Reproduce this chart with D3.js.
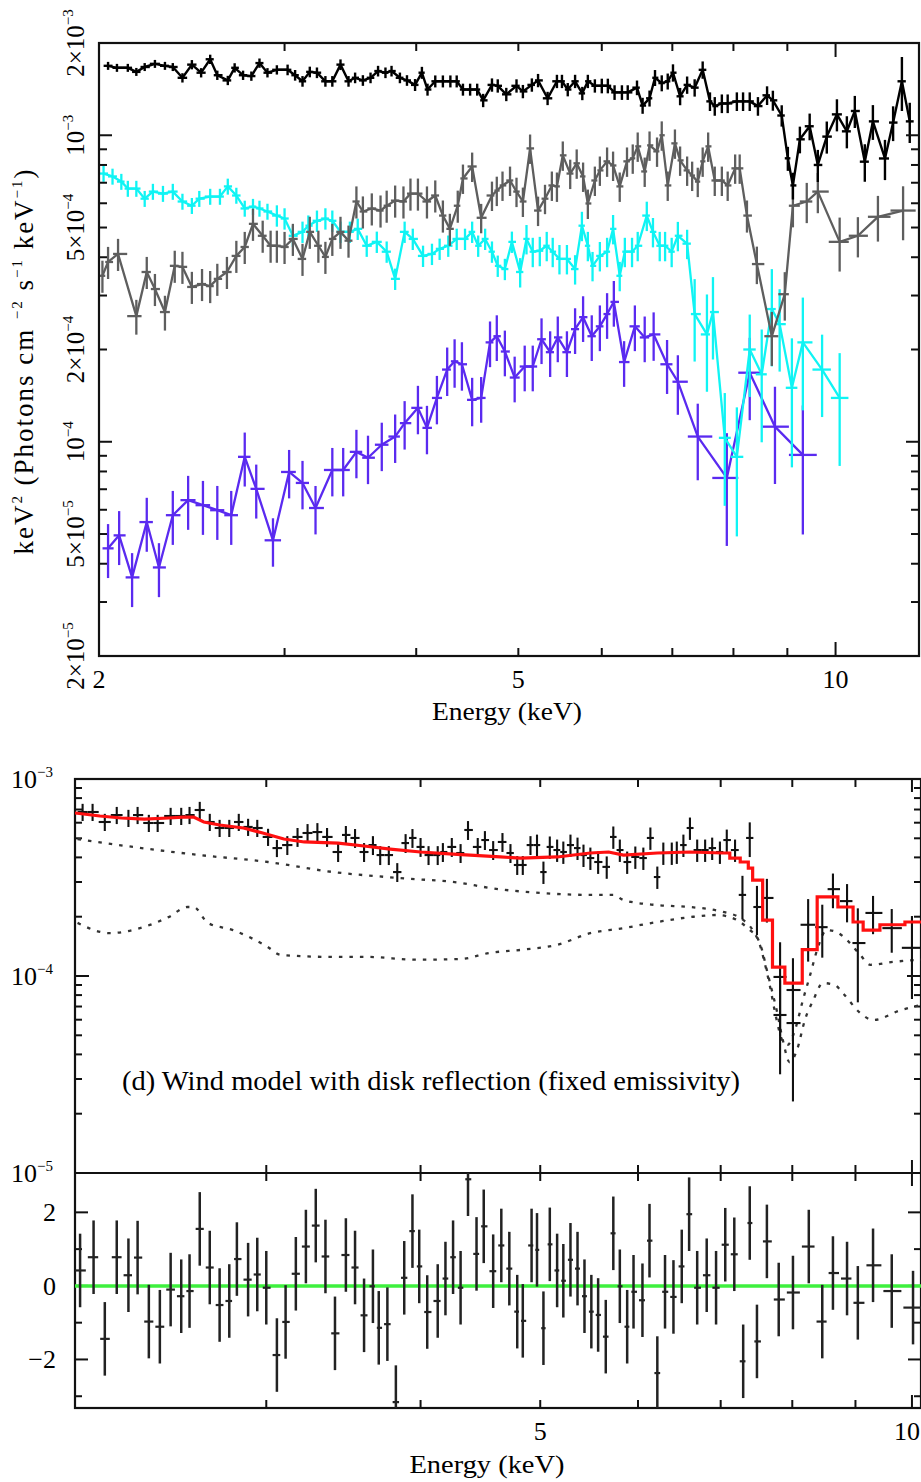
<!DOCTYPE html>
<html><head><meta charset="utf-8">
<script src="https://cdn.jsdelivr.net/npm/d3@7"></script>
<style>
body{margin:0;background:#fff}
svg{display:block}
text{font-family:"Liberation Serif","Times New Roman",serif;fill:#000}
</style>
</head><body>
<svg id="c" width="921" height="1482"></svg>
<script>
// ---------------- DATA (upper figure: four spectra, keV^2 flux) ----------------
const blackE = [2.04,2.08,2.13,2.17,2.21,2.26,2.31,2.35,2.40,2.45,2.50,2.55,2.59,2.65,2.69,2.74,2.79,2.84,2.89,2.95,
3.02,3.07,3.12,3.17,3.22,3.28,3.33,3.39,3.45,3.50,3.56,3.62,3.68,3.74,3.79,3.86,3.92,
3.99,4.05,4.10,4.17,4.24,4.31,4.37,4.43,4.50,4.57,4.63,4.72,4.78,4.87,
4.98,5.05,5.15,5.22,5.33,5.44,5.50,5.57,5.66,5.75,5.82,5.91,
6.00,6.08,6.17,6.27,6.35,6.48,6.56,6.66,6.74,6.84,6.93,
7.01,7.12,7.23,7.35,7.48,7.60,7.68,7.80,7.90,
8.06,8.17,8.29,8.44,8.61,8.72,8.89,
9.01,9.11,9.25,9.45,9.62,9.81,
10.03,10.25,10.43,10.66,10.85,11.14,11.34,11.56,11.76];
const blackV = [1.685e-3,1.66e-3,1.66e-3,1.61e-3,1.67e-3,1.71e-3,1.685e-3,1.67e-3,1.54e-3,1.70e-3,1.60e-3,1.77e-3,1.57e-3,1.51e-3,1.66e-3,1.57e-3,1.56e-3,1.72e-3,1.60e-3,1.635e-3,
1.635e-3,1.57e-3,1.50e-3,1.61e-3,1.60e-3,1.50e-3,1.50e-3,1.70e-3,1.50e-3,1.54e-3,1.51e-3,1.54e-3,1.62e-3,1.60e-3,1.62e-3,1.54e-3,1.51e-3,
1.46e-3,1.60e-3,1.41e-3,1.50e-3,1.50e-3,1.50e-3,1.50e-3,1.41e-3,1.41e-3,1.41e-3,1.30e-3,1.46e-3,1.45e-3,1.36e-3,
1.45e-3,1.39e-3,1.46e-3,1.51e-3,1.32e-3,1.50e-3,1.50e-3,1.41e-3,1.50e-3,1.37e-3,1.50e-3,1.45e-3,
1.45e-3,1.45e-3,1.38e-3,1.38e-3,1.38e-3,1.43e-3,1.25e-3,1.32e-3,1.54e-3,1.48e-3,1.50e-3,
1.60e-3,1.34e-3,1.46e-3,1.43e-3,1.635e-3,1.29e-3,1.245e-3,1.27e-3,1.27e-3,
1.29e-3,1.29e-3,1.29e-3,1.245e-3,1.35e-3,1.30e-3,1.16e-3,
8.41e-4,6.86e-4,9.7e-4,1.07e-3,8.0e-4,9.9e-4,
1.17e-3,1.03e-3,1.20e-3,8.2e-4,1.11e-3,8.4e-4,1.10e-3,1.50e-3,1.11e-3];
const blackErr = [.03,.03,.03,.03,.03,.03,.03,.03,.035,.035,.035,.035,.035,.035,.035,.035,.035,.035,.035,.035,
.04,.04,.04,.04,.04,.04,.04,.04,.04,.04,.04,.04,.04,.04,.04,.04,.04,
.045,.045,.045,.045,.045,.045,.045,.045,.045,.045,.05,.05,.05,.05,
.05,.05,.05,.05,.05,.05,.05,.05,.05,.05,.05,.05,
.055,.055,.055,.055,.055,.055,.06,.06,.06,.06,.06,
.065,.065,.065,.065,.065,.07,.07,.07,.07,
.07,.07,.07,.07,.07,.075,.08,
.09,.1,.1,.1,.12,.12,
.12,.12,.12,.14,.13,.15,.13,.2,.15];

const grayE = [2.015,2.04,2.085,2.17,2.22,2.26,2.31,2.36,2.40,2.45,2.505,2.55,2.59,2.645,2.70,2.75,2.80,2.86,2.91,2.95,
3.00,3.055,3.12,3.17,3.23,3.28,3.33,3.39,3.45,3.51,3.56,3.63,3.70,3.75,3.82,3.89,3.95,4.015,4.095,4.17,
4.24,4.305,4.38,4.43,4.52,4.61,4.72,4.77,4.83,4.91,4.98,5.05,5.13,5.22,5.30,5.38,5.44,5.51,5.60,5.68,
5.76,5.82,5.91,5.975,6.07,6.15,6.24,6.34,6.42,6.49,6.59,6.66,6.77,6.84,6.93,7.04,7.12,7.23,7.31,7.40,
7.48,7.57,7.68,7.80,7.90,8.03,8.11,8.24,8.42,8.70,8.95,9.11,9.39,9.62,10.09,10.50,10.97,11.59];
const grayV = [3.48e-4,3.86e-4,4.10e-4,2.57e-4,3.58e-4,3.15e-4,2.65e-4,3.75e-4,3.72e-4,3.20e-4,
3.27e-4,3.22e-4,3.40e-4,3.58e-4,4.04e-4,4.32e-4,5.14e-4,4.70e-4,4.36e-4,4.36e-4,
4.32e-4,4.59e-4,3.95e-4,4.84e-4,4.36e-4,4.01e-4,4.59e-4,4.84e-4,4.53e-4,6.08e-4,
5.64e-4,5.77e-4,5.68e-4,5.89e-4,6.12e-4,6.08e-4,6.45e-4,6.45e-4,6.08e-4,6.36e-4,
5.47e-4,4.95e-4,5.89e-4,7.23e-4,7.91e-4,5.38e-4,6.36e-4,6.60e-4,6.86e-4,7.12e-4,
6.55e-4,6.08e-4,9.06e-4,5.68e-4,6.21e-4,6.86e-4,6.81e-4,8.60e-4,7.50e-4,8.10e-4,
7.34e-4,5.99e-4,7.12e-4,7.68e-4,8.22e-4,7.97e-4,6.81e-4,8.22e-4,8.41e-4,9.20e-4,
7.62e-4,9.27e-4,8.86e-4,1.0e-3,6.86e-4,9.41e-4,8.28e-4,7.68e-4,7.39e-4,7.06e-4,
8.22e-4,9.20e-4,7.12e-4,7.12e-4,6.86e-4,7.80e-4,7.80e-4,5.47e-4,3.80e-4,2.21e-4,
3.03e-4,5.89e-4,6.08e-4,6.55e-4,4.49e-4,4.70e-4,5.42e-4,5.68e-4];
const grayErr = [.12,.12,.12,.13,.12,.12,.13,.12,.12,.12,.12,.12,.12,.12,.12,.12,.12,.12,.12,.12,
.12,.12,.12,.12,.12,.12,.12,.12,.12,.12,.12,.12,.12,.12,.12,.12,.12,.12,.12,.12,
.12,.12,.12,.11,.11,.11,.11,.11,.11,.11,.11,.11,.11,.11,.11,.11,.11,.11,.11,.11,
.11,.11,.11,.11,.11,.11,.11,.11,.11,.11,.11,.11,.11,.11,.11,.11,.11,.11,.11,.11,
.11,.11,.11,.11,.11,.11,.11,.12,.14,.2,.18,.15,.15,.15,.2,.15,.17,.2];

const cyanE = [2.02,2.06,2.10,2.13,2.17,2.21,2.25,2.30,2.35,2.40,2.45,2.49,2.55,2.605,2.65,2.70,2.75,2.80,2.84,2.89,
2.95,3.00,3.055,3.12,3.16,3.22,3.28,3.33,3.39,3.46,3.52,3.59,3.67,3.75,3.82,3.90,3.97,4.06,4.14,4.21,
4.29,4.37,4.45,4.52,4.58,4.65,4.72,4.78,4.855,4.93,5.02,5.09,5.16,5.24,5.32,5.39,5.47,5.56,5.66,5.745,
5.82,5.88,5.975,6.07,6.15,6.24,6.31,6.41,6.49,6.62,6.71,6.81,6.89,6.99,7.085,7.23,7.35,7.55,7.65,7.85,
8.06,8.29,8.51,8.70,8.85,9.09,9.31,9.71,10.09];
const cyanV = [7.50e-4,7.34e-4,7.06e-4,6.70e-4,6.70e-4,6.21e-4,6.55e-4,6.45e-4,6.55e-4,6.08e-4,
5.89e-4,6.21e-4,6.31e-4,6.31e-4,6.81e-4,6.36e-4,5.77e-4,5.85e-4,5.77e-4,5.64e-4,
5.47e-4,5.35e-4,4.70e-4,4.84e-4,5.07e-4,5.26e-4,5.35e-4,5.26e-4,4.84e-4,4.84e-4,
4.95e-4,4.36e-4,4.49e-4,4.17e-4,3.40e-4,4.84e-4,4.59e-4,4.04e-4,4.10e-4,4.26e-4,
4.36e-4,4.59e-4,4.59e-4,4.84e-4,4.36e-4,4.59e-4,4.17e-4,3.75e-4,3.66e-4,4.49e-4,
3.58e-4,4.59e-4,4.17e-4,4.20e-4,4.36e-4,4.17e-4,3.95e-4,3.95e-4,3.66e-4,5.07e-4,
4.36e-4,3.75e-4,4.04e-4,4.17e-4,4.95e-4,3.48e-4,4.17e-4,4.17e-4,4.36e-4,5.47e-4,
4.84e-4,4.36e-4,4.36e-4,4.17e-4,4.70e-4,4.43e-4,2.61e-4,2.24e-4,2.65e-4,1.03e-4,
8.93e-5,2.0e-4,1.66e-4,2.71e-4,2.42e-4,1.50e-4,2.11e-4,1.72e-4,1.39e-4];
const cyanErr = [.06,.06,.06,.06,.06,.06,.06,.06,.06,.06,.06,.06,.06,.06,.06,.06,.06,.06,.06,.06,
.08,.08,.08,.08,.08,.08,.08,.08,.08,.08,.08,.08,.08,.08,.08,.08,.08,.08,.08,.08,
.08,.08,.08,.08,.08,.08,.08,.08,.08,.08,.11,.11,.11,.11,.11,.11,.11,.11,.11,.11,
.11,.11,.11,.11,.11,.11,.11,.11,.11,.11,.11,.11,.11,.11,.11,.11,.3,.35,.3,.4,
.45,.3,.4,.35,.3,.45,.4,.3,.4];

const violetE = [2.04,2.09,2.15,2.22,2.28,2.35,2.43,2.51,2.59,2.67,2.75,2.82,2.925,3.03,3.12,3.21,3.33,3.41,3.51,3.60,
3.71,3.82,3.90,4.015,4.095,4.185,4.28,4.35,4.42,4.52,4.61,4.70,4.77,4.855,4.96,5.07,5.16,5.26,5.36,5.45,
5.56,5.66,5.76,5.87,5.975,6.07,6.16,6.30,6.45,6.59,6.72,6.92,7.085,7.40,7.885,8.29,8.76,9.31];
const violetV = [4.49e-5,4.95e-5,3.61e-5,5.47e-5,3.89e-5,5.76e-5,6.45e-5,6.21e-5,5.98e-5,5.76e-5,
8.93e-5,7.02e-5,4.77e-5,7.97e-5,7.34e-5,6.08e-5,8.09e-5,8.09e-5,9.27e-5,8.87e-5,
9.78e-5,1.04e-4,1.15e-4,1.29e-4,1.11e-4,1.39e-4,1.72e-4,1.83e-4,1.79e-4,1.37e-4,
1.39e-4,2.11e-4,2.21e-4,1.97e-4,1.62e-4,1.76e-4,1.76e-4,2.16e-4,1.96e-4,2.19e-4,
1.96e-4,2.33e-4,2.55e-4,2.21e-4,2.38e-4,2.61e-4,2.86e-4,1.82e-4,2.38e-4,2.19e-4,
2.24e-4,1.79e-4,1.57e-4,1.04e-4,7.62e-5,1.68e-4,1.12e-4,9.06e-5];
const violetErr = [.2,.2,.2,.2,.2,.2,.2,.2,.2,.2,.2,.2,.18,.18,.18,.18,.18,.18,.18,.18,
.18,.18,.18,.18,.18,.18,.18,.18,.18,.18,.17,.17,.17,.17,.17,.17,.17,.17,.17,.17,
.17,.17,.17,.17,.17,.17,.17,.17,.17,.17,.18,.2,.22,.28,.4,.3,.35,.45];

// ---------------- DATA (lower figure: panel d) ----------------
const dataE = [2.13,2.17,2.22,2.27,2.32,2.36,2.41,2.45,2.51,2.56,2.60,2.65,2.70,2.75,2.80,2.85,2.90,2.95,3.01,3.06,
3.12,3.18,3.24,3.30,3.36,3.43,3.48,3.54,3.60,3.66,3.71,3.77,3.83,3.89,3.94,4.00,4.06,4.13,4.17,4.24,
4.31,4.37,4.45,4.51,4.58,4.66,4.73,4.79,4.84,4.91,4.97,5.03,5.09,5.16,5.22,5.29,5.36,5.42,5.49,5.57,
5.66,5.73,5.80,5.88,5.97,6.06,6.14,6.22,6.29,6.39,6.45,6.53,6.61,6.70,6.80,6.89,6.99,7.08,7.19,7.29,
7.39,7.49,7.63,7.82,8.01,8.24,8.46,8.63,8.86,9.04,9.30,9.63,10.0];
const dataV = [6.80e-4,6.80e-4,6.05e-4,6.56e-4,6.34e-4,6.56e-4,5.98e-4,5.98e-4,6.49e-4,6.49e-4,
6.56e-4,6.96e-4,6.05e-4,5.64e-4,5.64e-4,6.05e-4,5.71e-4,5.64e-4,5.08e-4,4.46e-4,
4.62e-4,5.08e-4,5.32e-4,5.38e-4,5.08e-4,4.26e-4,5.20e-4,5.02e-4,4.26e-4,4.62e-4,
4.11e-4,4.11e-4,3.37e-4,4.73e-4,5.02e-4,4.52e-4,4.11e-4,4.11e-4,4.26e-4,4.52e-4,
4.21e-4,5.51e-4,4.52e-4,4.90e-4,4.36e-4,4.79e-4,4.21e-4,3.66e-4,3.66e-4,4.62e-4,
4.62e-4,3.37e-4,4.52e-4,4.36e-4,4.26e-4,4.62e-4,4.46e-4,4.11e-4,3.97e-4,3.79e-4,
3.58e-4,5.08e-4,4.36e-4,3.79e-4,4.02e-4,3.97e-4,5.02e-4,3.18e-4,4.21e-4,4.21e-4,
4.26e-4,4.62e-4,5.64e-4,4.36e-4,4.36e-4,4.46e-4,4.26e-4,4.90e-4,4.36e-4,2.58e-4,
5.02e-4,2.24e-4,2.49e-4,9.89e-5,8.49e-5,1.82e-4,1.77e-4,2.76e-4,2.40e-4,1.47e-4,
2.09e-4,1.75e-4,1.39e-4];
const dataErr = [.1,.1,.1,.1,.1,.1,.1,.1,.1,.1,.1,.1,.1,.1,.1,.1,.1,.1,.1,.1,
.11,.11,.11,.11,.11,.11,.11,.11,.11,.11,.11,.11,.11,.11,.11,.11,.11,.11,.11,.11,
.11,.11,.11,.11,.11,.11,.11,.11,.11,.11,.13,.13,.13,.13,.13,.13,.13,.13,.13,.13,
.13,.13,.13,.13,.13,.13,.13,.13,.13,.13,.13,.13,.13,.13,.13,.13,.13,.13,.13,.25,
.2,.28,.25,.5,.45,.35,.3,.2,.22,.5,.22,.25,.45];
const extraE = [7.82,8.01];
const extraV = [6.34e-5,5.77e-5];
const extraErr = [.5,.6];

// model: smooth continuum part, then histogram bins (value from each bin start)
const modelE = [2.10,2.20,2.29,2.39,2.50,2.57,2.62,2.67,2.75,2.875,2.98,3.10,3.22,3.43,3.60,3.78,4.00,4.25,4.64,4.82,
5.16,5.49,5.68,5.84,6.22,6.61,7.02,7.12,7.26,7.37,7.43,7.57,7.71,7.89,8.15,8.38,8.71,8.96,9.13,9.42,9.87,10.17];
const modelV = [6.72e-4,6.49e-4,6.34e-4,6.26e-4,6.34e-4,6.41e-4,6.41e-4,6.05e-4,5.84e-4,5.64e-4,
5.32e-4,4.96e-4,4.79e-4,4.73e-4,4.57e-4,4.41e-4,4.26e-4,4.16e-4,4.02e-4,3.97e-4,
4.02e-4,4.21e-4,4.26e-4,4.11e-4,4.21e-4,4.26e-4,4.21e-4,3.97e-4,3.79e-4,3.53e-4,
3.07e-4,1.92e-4,1.11e-4,9.21e-5,1.36e-4,2.52e-4,2.24e-4,1.88e-4,1.71e-4,1.82e-4,1.88e-4,1.88e-4];
const modelStepFrom = 7.02;

const windE = [2.11,2.34,2.65,3.01,3.40,3.85,4.31,4.55,5.00,5.49,5.73,5.84,6.22,6.61,7.02,7.26,7.43,7.53,7.60,7.67,
7.77,7.85,7.93,8.04,8.16,8.27,8.38,8.53,8.69,8.86,9.08,9.25,9.66,10.17];
const windV = [4.96e-4,4.52e-4,4.11e-4,3.79e-4,3.37e-4,3.14e-4,2.97e-4,2.80e-4,2.64e-4,2.58e-4,2.58e-4,2.43e-4,2.29e-4,2.24e-4,2.12e-4,1.97e-4,1.71e-4,1.44e-4,1.16e-4,9.0e-5,
5.98e-5,4.73e-5,4.47e-5,5.32e-5,7.55e-5,1.01e-4,1.36e-4,1.71e-4,1.67e-4,1.52e-4,1.28e-4,1.14e-4,1.18e-4,1.21e-4];

const reflE = [2.11,2.24,2.37,2.50,2.59,2.62,2.69,2.82,3.01,3.08,3.40,3.62,3.97,4.31,4.55,4.84,5.16,5.49,5.84,6.22,
6.61,6.95,7.22,7.39,7.49,7.56,7.63,7.70,7.77,7.86,7.96,8.07,8.19,8.32,8.47,8.66,8.79,9.08,9.30,9.80,10.17];
const reflV = [1.86e-4,1.65e-4,1.75e-4,1.99e-4,2.24e-4,2.24e-4,1.86e-4,1.71e-4,1.40e-4,1.28e-4,1.25e-4,1.25e-4,1.21e-4,1.22e-4,1.31e-4,1.36e-4,1.44e-4,1.65e-4,1.75e-4,1.88e-4,
1.99e-4,2.04e-4,1.92e-4,1.71e-4,1.58e-4,1.36e-4,1.07e-4,8.49e-5,6.72e-5,4.73e-5,3.65e-5,4.21e-5,5.98e-5,7.55e-5,9.21e-5,9.0e-5,8.20e-5,6.49e-5,5.98e-5,6.72e-5,7.13e-5];

// residuals in units of sigma (each bar is +/-1 sigma by definition)
const residE = [2.12,2.174,2.22,2.27,2.32,2.36,2.41,2.46,2.51,2.56,2.60,2.65,2.70,2.75,2.80,2.84,2.90,2.95,3.00,3.06,
3.11,3.17,3.23,3.29,3.35,3.41,3.48,3.54,3.60,3.66,3.70,3.76,3.82,3.88,3.94,3.99,4.05,4.13,4.19,4.25,
4.31,4.37,4.44,4.50,4.58,4.65,4.72,4.79,4.84,4.92,4.97,5.03,5.09,5.16,5.22,5.29,5.36,5.43,5.50,5.57,
5.65,5.73,5.80,5.88,5.95,6.05,6.13,6.22,6.31,6.41,6.51,6.60,6.70,6.82,6.94,7.06,7.18,7.30,7.39,7.49,
7.63,7.80,8.01,8.25,8.46,8.63,8.86,9.04,9.30,9.63,10.02];
const residV = [.42,.78,-1.44,.78,.29,.77,-.97,-1.11,-.10,-.28,-.14,1.55,.50,-.52,-.41,.73,.17,.31,-.05,-1.88,
-.98,.33,1.07,1.64,.80,-1.29,.84,.50,-.80,-.01,-1.14,-1.04,-3.16,.22,1.49,.53,-.71,-.41,.20,.78,
-.05,2.90,.87,1.62,.40,1.10,.47,-.70,-.95,1.10,.98,-1.15,1.13,.42,.14,.71,.47,-.28,-.70,-.79,
-1.38,1.43,-.01,-1.11,-.16,-.39,1.23,-2.37,-.16,-.30,.53,1.95,-.05,.29,-.05,1.12,.86,-2.05,1.71,-1.51,
1.21,-.37,-.18,1.07,-.97,.35,.20,-.46,.56,-.14,-.59];
const residSigma = 1;

// ---------------- ticks & labels ----------------
const energyTicks = [3,4,5,6,7,8,9,10];
const energyMajor = [10];
const topEnergyLabels = [["2",2],["5",5],["10",10]];
const botEnergyLabels = [["5",5],["10",10]];
const topFluxTicks = [2e-5,3e-5,4e-5,5e-5,6e-5,7e-5,8e-5,9e-5,1e-4,2e-4,3e-4,4e-4,5e-4,6e-4,7e-4,8e-4,9e-4,1e-3,2e-3];
const topFluxMajor = [1e-4,1e-3];
const topFluxLabels = [[2e-3,"2×10","−3"],[1e-3,"10","−3"],[5e-4,"5×10","−4"],[2e-4,"2×10","−4"],[1e-4,"10","−4"],[5e-5,"5×10","−5"],[2e-5,"2×10","−5"]];
const botFluxTicks = [1e-5,2e-5,3e-5,4e-5,5e-5,6e-5,7e-5,8e-5,9e-5,1e-4,2e-4,3e-4,4e-4,5e-4,6e-4,7e-4,8e-4,9e-4,1e-3];
const botFluxMajor = [1e-5,1e-4,1e-3];
const botFluxLabels = [[1e-3,"10","−3"],[1e-4,"10","−4"],[1e-5,"10","−5"]];
const residTicks = [-3,-2,-1,0,1,2];
const residMajor = [-2,0,2];
const residLabels = [[2,"2"],[0,"0"],[-2,"−2"]];

// ---------------- SCALES ----------------
const svg = d3.select("#c");
const topX = d3.scaleLog().domain([2,12]).range([99,919]);
const topY = d3.scaleLog().domain([2e-5,2e-3]).range([656,43]);
const botX = d3.scaleLog().domain([2.1,10.17]).range([75,921]);
const specY = d3.scaleLog().domain([1e-5,1e-3]).range([1173,779]);
const resY = d3.scaleLinear().domain([-3.32,3.07]).range([1408,1173]);

const defs = svg.append("defs");
function clip(id,x0,y0,x1,y1){defs.append("clipPath").attr("id",id).append("rect").attr("x",x0).attr("y",y0).attr("width",x1-x0).attr("height",y1-y0);}
clip("cTop",99,43,919,656); clip("cSpec",75,779,921,1173); clip("cRes",75,1173,921,1408);

function geoBins(E){
  return E.map((e,i)=>{
    const lo = i>0 ? Math.sqrt(E[i-1]*e) : e*Math.sqrt(e/E[i+1]);
    const hi = i<E.length-1 ? Math.sqrt(e*E[i+1]) : e*Math.sqrt(e/E[i-1]);
    return [lo,hi];
  });
}

function drawSeries(g,xs,ys,E,V,err,color,lw,withLine,binsOverride){
  const bins = binsOverride || geoBins(E);
  const pts = E.map((e,i)=>({e,v:V[i],lo:bins[i][0],hi:bins[i][1],er:err[i]}));
  if(withLine){
    g.append("path").datum(pts).attr("d",d3.line().x(d=>xs(d.e)).y(d=>ys(d.v)))
      .attr("fill","none").attr("stroke",color).attr("stroke-width",lw).attr("stroke-linejoin","round");
  }
  g.selectAll(null).data(pts).join("line")
    .attr("x1",d=>xs(d.e)).attr("x2",d=>xs(d.e))
    .attr("y1",d=>ys(d.v*(1+d.er))).attr("y2",d=>ys(Math.max(d.v*(1-d.er),1e-9)))
    .attr("stroke",color).attr("stroke-width",lw);
  g.selectAll(null).data(pts).join("line")
    .attr("x1",d=>xs(d.lo)).attr("x2",d=>xs(d.hi))
    .attr("y1",d=>ys(d.v)).attr("y2",d=>ys(d.v))
    .attr("stroke",color).attr("stroke-width",lw);
}

// ---------------- TOP PANEL ----------------
const gTop = svg.append("g").attr("clip-path","url(#cTop)");
drawSeries(gTop,topX,topY,violetE,violetV,violetErr,"#5a2af0",2.3,true);
drawSeries(gTop,topX,topY,cyanE,cyanV,cyanErr,"#10f4f4",2.3,true);
drawSeries(gTop,topX,topY,grayE,grayV,grayErr,"#5e5e5e",2.3,true);
drawSeries(gTop,topX,topY,blackE,blackV,blackErr,"#000",2.4,true);

const ax = svg.append("g").attr("stroke","#111").attr("fill","none");
function frame(x0,y0,x1,y1){ax.append("rect").attr("x",x0).attr("y",y0).attr("width",x1-x0).attr("height",y1-y0).attr("stroke-width",2.2);}
frame(99,43,919,656);
energyTicks.forEach(t=>{
  const L = energyMajor.includes(t)?14:8, x=topX(t);
  ax.append("line").attr("x1",x).attr("x2",x).attr("y1",656).attr("y2",656-L).attr("stroke-width",2);
  ax.append("line").attr("x1",x).attr("x2",x).attr("y1",43).attr("y2",43+L).attr("stroke-width",2);
});
topFluxTicks.forEach(t=>{
  const L = topFluxMajor.includes(t)?13:8, y=topY(t);
  ax.append("line").attr("x1",99).attr("x2",99+L).attr("y1",y).attr("y2",y).attr("stroke-width",2);
  ax.append("line").attr("x1",919).attr("x2",919-L).attr("y1",y).attr("y2",y).attr("stroke-width",2);
});
const tx = svg.append("g");
topEnergyLabels.forEach(([s,v])=>{
  tx.append("text").attr("x",topX(v)).attr("y",688).attr("text-anchor","middle").attr("font-size",26).text(s);
});
tx.append("text").attr("x",507).attr("y",720).attr("text-anchor","middle").attr("font-size",25)
  .attr("textLength",150).attr("lengthAdjust","spacingAndGlyphs").text("Energy (keV)");
topFluxLabels.forEach(([v,m,e])=>{
  const t = tx.append("text").attr("transform",`translate(84,${topY(v)}) rotate(-90)`)
    .attr("text-anchor","middle").attr("font-size",25);
  t.append("tspan").text(m);
  t.append("tspan").attr("font-size",15).attr("dy",-11).text(e);
});
{
  const t = tx.append("text").attr("transform","translate(33,362) rotate(-90)")
    .attr("text-anchor","middle").attr("font-size",27)
    .attr("textLength",385).attr("lengthAdjust","spacing");
  t.append("tspan").text("keV");
  t.append("tspan").attr("font-size",15).attr("dy",-11).text("2");
  t.append("tspan").attr("dy",11).text(" (Photons cm  ");
  t.append("tspan").attr("font-size",15).attr("dy",-11).text("−2");
  t.append("tspan").attr("dy",11).text(" s");
  t.append("tspan").attr("font-size",15).attr("dy",-11).text("−1");
  t.append("tspan").attr("dy",11).text(" keV");
  t.append("tspan").attr("font-size",15).attr("dy",-11).text("−1");
  t.append("tspan").attr("dy",11).text(")");
}

// ---------------- BOTTOM PANEL: spectrum ----------------
const gSpec = svg.append("g").attr("clip-path","url(#cSpec)");
function comp(E,V){
  gSpec.append("path").datum(E.map((e,i)=>[e,V[i]]))
    .attr("d",d3.line().x(d=>botX(d[0])).y(d=>specY(d[1])).curve(d3.curveMonotoneX))
    .attr("fill","none").attr("stroke","#333").attr("stroke-width",2.3).attr("stroke-dasharray","3.5,7");
}
comp(windE,windV);
comp(reflE,reflV);
const dBins = geoBins(dataE);
drawSeries(gSpec,botX,specY,dataE,dataV,dataErr,"#111",2.1,false,dBins);
drawSeries(gSpec,botX,specY,extraE,extraV,extraErr,"#111",2.1,false,extraE.map(e=>dBins[dataE.indexOf(e)]));
{
  // continuum drawn as line, absorption region as histogram steps
  const pts = [];
  modelE.forEach((e,i)=>{
    if(e>modelStepFrom && i>0) pts.push([e,modelV[i-1]]);
    pts.push([e,modelV[i]]);
  });
  gSpec.append("path").datum(pts)
    .attr("d",d3.line().x(d=>botX(d[0])).y(d=>specY(d[1])))
    .attr("fill","none").attr("stroke","#ff1010").attr("stroke-width",3.2);
}

// residuals
const gRes = svg.append("g").attr("clip-path","url(#cRes)");
gRes.append("line").attr("x1",75).attr("x2",921).attr("y1",resY(0)).attr("y2",resY(0))
  .attr("stroke","#3ef03e").attr("stroke-width",3.5);
{
  const rb = geoBins(residE);
  const rp = residE.map((e,i)=>({e,r:residV[i],lo:rb[i][0],hi:rb[i][1]}));
  gRes.selectAll(null).data(rp).join("line")
    .attr("x1",d=>botX(d.e)).attr("x2",d=>botX(d.e))
    .attr("y1",d=>resY(d.r+residSigma)).attr("y2",d=>resY(d.r-residSigma))
    .attr("stroke","#222").attr("stroke-width",2.5);
  gRes.selectAll(null).data(rp).join("line")
    .attr("x1",d=>botX(d.lo)+1).attr("x2",d=>botX(d.hi)-1)
    .attr("y1",d=>resY(d.r)).attr("y2",d=>resY(d.r))
    .attr("stroke","#222").attr("stroke-width",2.2);
}

// frames & ticks bottom
frame(75,779,921,1408);
ax.append("line").attr("x1",75).attr("x2",921).attr("y1",1173).attr("y2",1173).attr("stroke-width",2.2);
energyTicks.forEach(t=>{
  const L = energyMajor.includes(t)?13:8, x=botX(t);
  ax.append("line").attr("x1",x).attr("x2",x).attr("y1",779).attr("y2",779+L).attr("stroke-width",2);
  ax.append("line").attr("x1",x).attr("x2",x).attr("y1",1173-L).attr("y2",1173+L).attr("stroke-width",2);
  ax.append("line").attr("x1",x).attr("x2",x).attr("y1",1408).attr("y2",1408-L).attr("stroke-width",2);
});
botFluxTicks.forEach(t=>{
  const L = botFluxMajor.includes(t)?14:7, y=specY(t);
  ax.append("line").attr("x1",75).attr("x2",75+L).attr("y1",y).attr("y2",y).attr("stroke-width",2);
  ax.append("line").attr("x1",921).attr("x2",921-L).attr("y1",y).attr("y2",y).attr("stroke-width",2);
});
residTicks.forEach(t=>{
  const L = residMajor.includes(t)?13:7, y=resY(t);
  ax.append("line").attr("x1",75).attr("x2",75+L).attr("y1",y).attr("y2",y).attr("stroke-width",2);
  ax.append("line").attr("x1",921).attr("x2",921-L).attr("y1",y).attr("y2",y).attr("stroke-width",2);
});
botFluxLabels.forEach(([v,m,e])=>{
  const t = tx.append("text").attr("x",53).attr("y",specY(v)+9).attr("text-anchor","end").attr("font-size",26);
  t.append("tspan").text(m);
  t.append("tspan").attr("font-size",15).attr("dy",-11).text(e);
});
residLabels.forEach(([v,s])=>{
  tx.append("text").attr("x",56).attr("y",resY(v)+9).attr("text-anchor","end").attr("font-size",26).text(s);
});
botEnergyLabels.forEach(([s,v])=>{
  const t = tx.append("text").attr("y",1440).attr("font-size",26).text(s);
  if(botX(v)+14>921) t.attr("x",920).attr("text-anchor","end");
  else t.attr("x",botX(v)).attr("text-anchor","middle");
});
tx.append("text").attr("x",487).attr("y",1473).attr("text-anchor","middle").attr("font-size",26)
  .attr("textLength",155).attr("lengthAdjust","spacingAndGlyphs").text("Energy (keV)");
tx.append("text").attr("x",122).attr("y",1090).attr("font-size",27)
  .attr("textLength",618).attr("lengthAdjust","spacingAndGlyphs").text("(d) Wind model with disk reflection (fixed emissivity)");
</script>
</body></html>
